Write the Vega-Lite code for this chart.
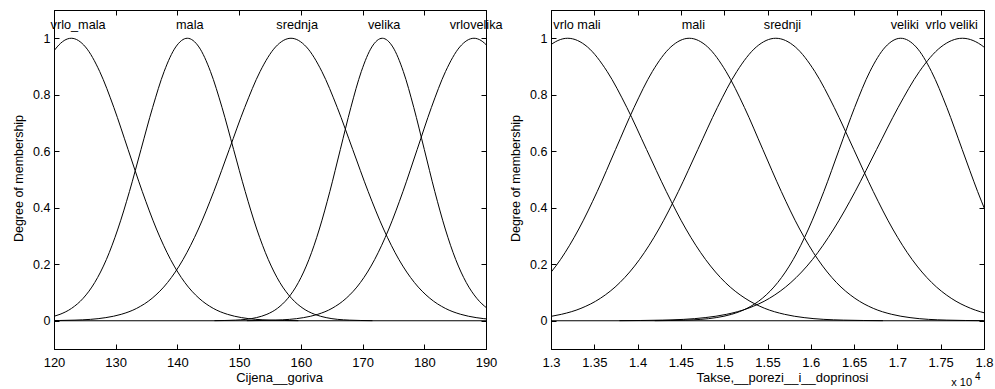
{
  "$schema": "https://vega.github.io/schema/vega-lite/v6.json",
  "autosize": {"type": "pad"},
  "padding": {"left": 11, "top": 9, "right": 5, "bottom": 0},
  "background": "white",
  "spacing": 65,
  "bounds": "flush",
  "config": {
    "font": "Liberation Sans",
    "view": {"stroke": "black", "strokeWidth": 1},
    "axis": {"grid": false, "domainColor": "black", "tickColor": "black", "labelColor": "black", "titleColor": "black", "tickSize": -5, "titleFontWeight": "normal", "titleFontSize": 13, "labelFontSize": 12.5, "domainWidth": 1, "tickWidth": 1, "labelFont": "Liberation Sans", "titleFont": "Liberation Sans"},
    "text": {"font": "Liberation Sans"}
  },
  "datasets": {
    "left": [
      {"mf":"vrlo_mala","x":113.6,"y":0.6065},{"mf":"vrlo_mala","x":115.9,"y":0.7548},{"mf":"vrlo_mala","x":118.2,"y":0.8825},{"mf":"vrlo_mala","x":120.5,"y":0.9692},{"mf":"vrlo_mala","x":122.8,"y":1},{"mf":"vrlo_mala","x":125.1,"y":0.9692},{"mf":"vrlo_mala","x":127.4,"y":0.8825},{"mf":"vrlo_mala","x":129.7,"y":0.7548},{"mf":"vrlo_mala","x":132,"y":0.6065},{"mf":"vrlo_mala","x":134.3,"y":0.4578},{"mf":"vrlo_mala","x":136.6,"y":0.3247},{"mf":"vrlo_mala","x":138.9,"y":0.2163},{"mf":"vrlo_mala","x":141.2,"y":0.1353},{"mf":"vrlo_mala","x":143.5,"y":0.0796},{"mf":"vrlo_mala","x":145.8,"y":0.0439},{"mf":"vrlo_mala","x":148.1,"y":0.0228},{"mf":"vrlo_mala","x":150.4,"y":0.0111},{"mf":"vrlo_mala","x":155,"y":0.0022},{"mf":"vrlo_mala","x":159.6,"y":0.0003},
      {"mf":"mala","x":111.6,"y":0.0003},{"mf":"mala","x":115.35,"y":0.0022},{"mf":"mala","x":119.1,"y":0.0111},{"mf":"mala","x":120.98,"y":0.0228},{"mf":"mala","x":122.85,"y":0.0439},{"mf":"mala","x":124.73,"y":0.0796},{"mf":"mala","x":126.6,"y":0.1353},{"mf":"mala","x":128.48,"y":0.2163},{"mf":"mala","x":130.35,"y":0.3247},{"mf":"mala","x":132.23,"y":0.4578},{"mf":"mala","x":134.1,"y":0.6065},{"mf":"mala","x":135.98,"y":0.7548},{"mf":"mala","x":137.85,"y":0.8825},{"mf":"mala","x":139.73,"y":0.9692},{"mf":"mala","x":141.6,"y":1},{"mf":"mala","x":143.48,"y":0.9692},{"mf":"mala","x":145.35,"y":0.8825},{"mf":"mala","x":147.23,"y":0.7548},{"mf":"mala","x":149.1,"y":0.6065},{"mf":"mala","x":150.98,"y":0.4578},{"mf":"mala","x":152.85,"y":0.3247},{"mf":"mala","x":154.73,"y":0.2163},{"mf":"mala","x":156.6,"y":0.1353},{"mf":"mala","x":158.48,"y":0.0796},{"mf":"mala","x":160.35,"y":0.0439},{"mf":"mala","x":162.23,"y":0.0228},{"mf":"mala","x":164.1,"y":0.0111},{"mf":"mala","x":167.85,"y":0.0022},{"mf":"mala","x":171.6,"y":0.0003},
      {"mf":"srednja","x":118.4,"y":0.0003},{"mf":"srednja","x":123.4,"y":0.0022},{"mf":"srednja","x":128.4,"y":0.0111},{"mf":"srednja","x":130.9,"y":0.0228},{"mf":"srednja","x":133.4,"y":0.0439},{"mf":"srednja","x":135.9,"y":0.0796},{"mf":"srednja","x":138.4,"y":0.1353},{"mf":"srednja","x":140.9,"y":0.2163},{"mf":"srednja","x":143.4,"y":0.3247},{"mf":"srednja","x":145.9,"y":0.4578},{"mf":"srednja","x":148.4,"y":0.6065},{"mf":"srednja","x":150.9,"y":0.7548},{"mf":"srednja","x":153.4,"y":0.8825},{"mf":"srednja","x":155.9,"y":0.9692},{"mf":"srednja","x":158.4,"y":1},{"mf":"srednja","x":160.9,"y":0.9692},{"mf":"srednja","x":163.4,"y":0.8825},{"mf":"srednja","x":165.9,"y":0.7548},{"mf":"srednja","x":168.4,"y":0.6065},{"mf":"srednja","x":170.9,"y":0.4578},{"mf":"srednja","x":173.4,"y":0.3247},{"mf":"srednja","x":175.9,"y":0.2163},{"mf":"srednja","x":178.4,"y":0.1353},{"mf":"srednja","x":180.9,"y":0.0796},{"mf":"srednja","x":183.4,"y":0.0439},{"mf":"srednja","x":185.9,"y":0.0228},{"mf":"srednja","x":188.4,"y":0.0111},{"mf":"srednja","x":193.4,"y":0.0022},
      {"mf":"velika","x":146,"y":0.0003},{"mf":"velika","x":149.4,"y":0.0022},{"mf":"velika","x":152.8,"y":0.0111},{"mf":"velika","x":154.5,"y":0.0228},{"mf":"velika","x":156.2,"y":0.0439},{"mf":"velika","x":157.9,"y":0.0796},{"mf":"velika","x":159.6,"y":0.1353},{"mf":"velika","x":161.3,"y":0.2163},{"mf":"velika","x":163,"y":0.3247},{"mf":"velika","x":164.7,"y":0.4578},{"mf":"velika","x":166.4,"y":0.6065},{"mf":"velika","x":168.1,"y":0.7548},{"mf":"velika","x":169.8,"y":0.8825},{"mf":"velika","x":171.5,"y":0.9692},{"mf":"velika","x":173.2,"y":1},{"mf":"velika","x":174.9,"y":0.9692},{"mf":"velika","x":176.6,"y":0.8825},{"mf":"velika","x":178.3,"y":0.7548},{"mf":"velika","x":180,"y":0.6065},{"mf":"velika","x":181.7,"y":0.4578},{"mf":"velika","x":183.4,"y":0.3247},{"mf":"velika","x":185.1,"y":0.2163},{"mf":"velika","x":186.8,"y":0.1353},{"mf":"velika","x":188.5,"y":0.0796},{"mf":"velika","x":190.2,"y":0.0439},{"mf":"velika","x":191.9,"y":0.0228},
      {"mf":"vrlovelika","x":151.25,"y":0.0003},{"mf":"vrlovelika","x":155.85,"y":0.0022},{"mf":"vrlovelika","x":160.45,"y":0.0111},{"mf":"vrlovelika","x":162.75,"y":0.0228},{"mf":"vrlovelika","x":165.05,"y":0.0439},{"mf":"vrlovelika","x":167.35,"y":0.0796},{"mf":"vrlovelika","x":169.65,"y":0.1353},{"mf":"vrlovelika","x":171.95,"y":0.2163},{"mf":"vrlovelika","x":174.25,"y":0.3247},{"mf":"vrlovelika","x":176.55,"y":0.4578},{"mf":"vrlovelika","x":178.85,"y":0.6065},{"mf":"vrlovelika","x":181.15,"y":0.7548},{"mf":"vrlovelika","x":183.45,"y":0.8825},{"mf":"vrlovelika","x":185.75,"y":0.9692},{"mf":"vrlovelika","x":188.05,"y":1},{"mf":"vrlovelika","x":190.35,"y":0.9692},{"mf":"vrlovelika","x":192.65,"y":0.8825}
    ],
    "leftLabels": [
      {"mf":"vrlo_mala","lx":123.9},{"mf":"mala","lx":142},{"mf":"srednja","lx":159.4},{"mf":"velika","lx":173.5},{"mf":"vrlovelika","lx":188.4}
    ],
    "right": [
      {"mf":"vrlo mali","x":12283,"y":0.6065},{"mf":"vrlo mali","x":12511,"y":0.7548},{"mf":"vrlo mali","x":12738,"y":0.8825},{"mf":"vrlo mali","x":12966,"y":0.9692},{"mf":"vrlo mali","x":13193,"y":1},{"mf":"vrlo mali","x":13421,"y":0.9692},{"mf":"vrlo mali","x":13648,"y":0.8825},{"mf":"vrlo mali","x":13876,"y":0.7548},{"mf":"vrlo mali","x":14103,"y":0.6065},{"mf":"vrlo mali","x":14331,"y":0.4578},{"mf":"vrlo mali","x":14558,"y":0.3247},{"mf":"vrlo mali","x":14786,"y":0.2163},{"mf":"vrlo mali","x":15013,"y":0.1353},{"mf":"vrlo mali","x":15241,"y":0.0796},{"mf":"vrlo mali","x":15468,"y":0.0439},{"mf":"vrlo mali","x":15696,"y":0.0228},{"mf":"vrlo mali","x":15923,"y":0.0111},{"mf":"vrlo mali","x":16378,"y":0.0022},{"mf":"vrlo mali","x":16833,"y":0.0003},
      {"mf":"mali","x":12684,"y":0.0796},{"mf":"mali","x":12896,"y":0.1353},{"mf":"mali","x":13109,"y":0.2163},{"mf":"mali","x":13321,"y":0.3247},{"mf":"mali","x":13534,"y":0.4578},{"mf":"mali","x":13746,"y":0.6065},{"mf":"mali","x":13959,"y":0.7548},{"mf":"mali","x":14171,"y":0.8825},{"mf":"mali","x":14384,"y":0.9692},{"mf":"mali","x":14596,"y":1},{"mf":"mali","x":14809,"y":0.9692},{"mf":"mali","x":15021,"y":0.8825},{"mf":"mali","x":15234,"y":0.7548},{"mf":"mali","x":15446,"y":0.6065},{"mf":"mali","x":15659,"y":0.4578},{"mf":"mali","x":15871,"y":0.3247},{"mf":"mali","x":16084,"y":0.2163},{"mf":"mali","x":16296,"y":0.1353},{"mf":"mali","x":16509,"y":0.0796},{"mf":"mali","x":16721,"y":0.0439},{"mf":"mali","x":16934,"y":0.0228},{"mf":"mali","x":17146,"y":0.0111},{"mf":"mali","x":17571,"y":0.0022},{"mf":"mali","x":17996,"y":0.0003},
      {"mf":"srednji","x":11996,"y":0.0003},{"mf":"srednji","x":12446,"y":0.0022},{"mf":"srednji","x":12896,"y":0.0111},{"mf":"srednji","x":13121,"y":0.0228},{"mf":"srednji","x":13346,"y":0.0439},{"mf":"srednji","x":13571,"y":0.0796},{"mf":"srednji","x":13796,"y":0.1353},{"mf":"srednji","x":14021,"y":0.2163},{"mf":"srednji","x":14246,"y":0.3247},{"mf":"srednji","x":14471,"y":0.4578},{"mf":"srednji","x":14696,"y":0.6065},{"mf":"srednji","x":14921,"y":0.7548},{"mf":"srednji","x":15146,"y":0.8825},{"mf":"srednji","x":15371,"y":0.9692},{"mf":"srednji","x":15596,"y":1},{"mf":"srednji","x":15821,"y":0.9692},{"mf":"srednji","x":16046,"y":0.8825},{"mf":"srednji","x":16271,"y":0.7548},{"mf":"srednji","x":16496,"y":0.6065},{"mf":"srednji","x":16721,"y":0.4578},{"mf":"srednji","x":16946,"y":0.3247},{"mf":"srednji","x":17171,"y":0.2163},{"mf":"srednji","x":17396,"y":0.1353},{"mf":"srednji","x":17621,"y":0.0796},{"mf":"srednji","x":17846,"y":0.0439},{"mf":"srednji","x":18071,"y":0.0228},{"mf":"srednji","x":18296,"y":0.0111},
      {"mf":"veliki","x":14198,"y":0.0003},{"mf":"veliki","x":14553,"y":0.0022},{"mf":"veliki","x":14908,"y":0.0111},{"mf":"veliki","x":15086,"y":0.0228},{"mf":"veliki","x":15263,"y":0.0439},{"mf":"veliki","x":15441,"y":0.0796},{"mf":"veliki","x":15618,"y":0.1353},{"mf":"veliki","x":15796,"y":0.2163},{"mf":"veliki","x":15973,"y":0.3247},{"mf":"veliki","x":16151,"y":0.4578},{"mf":"veliki","x":16328,"y":0.6065},{"mf":"veliki","x":16506,"y":0.7548},{"mf":"veliki","x":16683,"y":0.8825},{"mf":"veliki","x":16861,"y":0.9692},{"mf":"veliki","x":17038,"y":1},{"mf":"veliki","x":17216,"y":0.9692},{"mf":"veliki","x":17393,"y":0.8825},{"mf":"veliki","x":17571,"y":0.7548},{"mf":"veliki","x":17748,"y":0.6065},{"mf":"veliki","x":17926,"y":0.4578},{"mf":"veliki","x":18103,"y":0.3247},
      {"mf":"vrlo veliki","x":13790,"y":0.0003},{"mf":"vrlo veliki","x":14285,"y":0.0022},{"mf":"vrlo veliki","x":14780,"y":0.0111},{"mf":"vrlo veliki","x":15028,"y":0.0228},{"mf":"vrlo veliki","x":15275,"y":0.0439},{"mf":"vrlo veliki","x":15523,"y":0.0796},{"mf":"vrlo veliki","x":15770,"y":0.1353},{"mf":"vrlo veliki","x":16018,"y":0.2163},{"mf":"vrlo veliki","x":16265,"y":0.3247},{"mf":"vrlo veliki","x":16513,"y":0.4578},{"mf":"vrlo veliki","x":16760,"y":0.6065},{"mf":"vrlo veliki","x":17008,"y":0.7548},{"mf":"vrlo veliki","x":17255,"y":0.8825},{"mf":"vrlo veliki","x":17503,"y":0.9692},{"mf":"vrlo veliki","x":17750,"y":1},{"mf":"vrlo veliki","x":17998,"y":0.9692},{"mf":"vrlo veliki","x":18245,"y":0.8825}
    ],
    "rightLabels": [
      {"mf":"vrlo mali","lx":13300},{"mf":"mali","lx":14644},{"mf":"srednji","lx":15673},{"mf":"veliki","lx":17085},{"mf":"vrlo veliki","lx":17627}
    ],
    "zero": [{"v": 0}]
  },
  "hconcat": [
    {
      "width": 432,
      "height": 339,
      "layer": [
        {
          "data": {"name": "left"},
          "mark": {"type": "line", "color": "black", "strokeWidth": 1, "clip": true, "interpolate": "monotone"},
          "encoding": {
            "x": {"field": "x", "type": "quantitative", "scale": {"domain": [120, 190], "nice": false, "zero": false},
                  "axis": {"orient": "bottom", "values": [120,130,140,150,160,170,180,190], "format": "d", "labelPadding": 12, "labelFontSize": 13, "labelFlush": false, "labelOverlap": false, "title": "Cijena__goriva", "titleX": 225, "titleY": 28, "titleBaseline": "middle", "titleAlign": "center"}},
            "y": {"field": "y", "type": "quantitative", "scale": {"domain": [-0.1, 1.1], "nice": false, "zero": false},
                  "axis": {"orient": "left", "values": [0,0.2,0.4,0.6,0.8,1], "format": "~g", "labelPadding": 9, "labelFontSize": 12.5, "title": "Degree of membership", "titleX": -36, "titleY": 168, "titleAngle": -90, "titleBaseline": "middle", "titleAlign": "center", "titleFontSize": 12.5}},
            "detail": {"field": "mf", "type": "nominal"}
          }
        },
        {
          "data": {"name": "zero"},
          "mark": {"type": "rule", "color": "black", "strokeWidth": 1},
          "encoding": {
            "y": {"field": "v", "type": "quantitative", "axis": {"orient": "right", "values": [0,0.2,0.4,0.6,0.8,1], "labels": false, "title": null}}
          }
        },
        {
          "data": {"name": "leftLabels"},
          "mark": {"type": "text", "fontSize": 12.7, "baseline": "alphabetic", "align": "center", "color": "black"},
          "encoding": {
            "x": {"field": "lx", "type": "quantitative", "axis": {"orient": "top", "values": [120,130,140,150,160,170,180,190], "labels": false, "title": null}},
            "y": {"datum": 1.033, "axis": null},
            "text": {"field": "mf"}
          }
        }
      ],
      "resolve": {"axis": {"x": "independent", "y": "independent"}}
    },
    {
      "width": 433,
      "height": 339,
      "layer": [
        {
          "data": {"name": "right"},
          "mark": {"type": "line", "color": "black", "strokeWidth": 1, "clip": true, "interpolate": "monotone"},
          "encoding": {
            "x": {"field": "x", "type": "quantitative", "scale": {"domain": [13000, 18000], "nice": false, "zero": false},
                  "axis": {"orient": "bottom", "values": [13000,13500,14000,14500,15000,15500,16000,16500,17000,17500,18000], "labelExpr": "format(datum.value / 10000, '.2~f')", "labelPadding": 12, "labelFontSize": 13, "labelFlush": false, "labelOverlap": false, "title": "Takse,__porezi__i__doprinosi", "titleX": 231, "titleY": 28, "titleBaseline": "middle", "titleAlign": "center"}},
            "y": {"field": "y", "type": "quantitative", "scale": {"domain": [-0.1, 1.1], "nice": false, "zero": false},
                  "axis": {"orient": "left", "values": [0,0.2,0.4,0.6,0.8,1], "format": "~g", "labelPadding": 9, "labelFontSize": 12.5, "title": "Degree of membership", "titleX": -36, "titleY": 168, "titleAngle": -90, "titleBaseline": "middle", "titleAlign": "center", "titleFontSize": 12.5}},
            "detail": {"field": "mf", "type": "nominal"}
          }
        },
        {
          "data": {"name": "zero"},
          "mark": {"type": "rule", "color": "black", "strokeWidth": 1},
          "encoding": {
            "y": {"field": "v", "type": "quantitative", "axis": {"orient": "right", "values": [0,0.2,0.4,0.6,0.8,1], "labels": false, "title": null}}
          }
        },
        {
          "data": {"name": "rightLabels"},
          "mark": {"type": "text", "fontSize": 12.7, "baseline": "alphabetic", "align": "center", "color": "black"},
          "encoding": {
            "x": {"field": "lx", "type": "quantitative", "axis": {"orient": "top", "values": [13000,13500,14000,14500,15000,15500,16000,16500,17000,17500,18000], "labels": false, "title": null}},
            "y": {"datum": 1.033, "axis": null},
            "text": {"field": "mf"}
          }
        },
        {
          "data": {"name": "zero"},
          "mark": {"type": "text", "text": "x 10", "fontSize": 11, "align": "right", "baseline": "alphabetic", "dx": -12, "dy": 37, "color": "black"},
          "encoding": {
            "x": {"datum": 18000, "axis": null},
            "y": {"datum": -0.1, "axis": null}
          }
        },
        {
          "data": {"name": "zero"},
          "mark": {"type": "text", "text": "4", "fontSize": 10, "align": "left", "baseline": "alphabetic", "dx": -9, "dy": 31, "color": "black"},
          "encoding": {
            "x": {"datum": 18000, "axis": null},
            "y": {"datum": -0.1, "axis": null}
          }
        }
      ],
      "resolve": {"axis": {"x": "independent", "y": "independent"}}
    }
  ]
}
